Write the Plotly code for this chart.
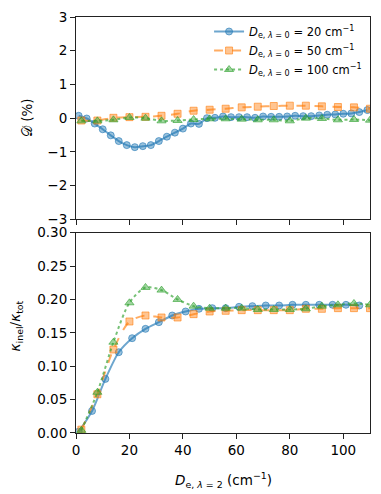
import plotly.graph_objects as go

# ---- top panel data: D (%) ----
top_x_20 = [1, 4, 7, 10, 13, 16, 19, 22, 25, 28, 31, 34, 37, 40, 43, 46, 49, 52, 55, 58,
            61, 64, 67, 70, 73, 76, 79, 82, 85, 88, 91, 94, 97, 100, 103, 106, 109]
top_y_20 = [0.07, -0.01, -0.16, -0.33, -0.51, -0.68, -0.80, -0.86, -0.83, -0.80, -0.68, -0.55,
            -0.43, -0.31, -0.16, -0.17, 0.00, 0.01, 0.05, 0.03, 0.03, 0.03, 0.01, 0.05, 0.04,
            0.04, 0.05, 0.07, 0.06, 0.06, 0.08, 0.10, 0.11, 0.13, 0.14, 0.18, 0.24]
top_x_50 = [2, 8, 14, 20, 26, 32, 38, 44, 50, 56, 62, 68, 74, 80, 86, 92, 98, 104, 110]
top_y_50 = [-0.07, -0.07, 0.01, 0.03, 0.04, 0.07, 0.13, 0.22, 0.25, 0.28, 0.32, 0.34, 0.36,
            0.37, 0.37, 0.35, 0.33, 0.32, 0.28]
top_x_100 = [2, 8, 14, 20, 26, 32, 38, 44, 50, 56, 62, 68, 74, 80, 86, 92, 98, 104, 110]
top_y_100 = [-0.08, -0.08, -0.05, 0.02, 0.00, -0.08, -0.07, -0.04, -0.02, -0.02, -0.03, -0.05,
             -0.05, -0.08, 0.00, -0.01, -0.05, -0.04, -0.06]

# ---- bottom panel data: kappa_inel / kappa_tot ----
bot_x_20 = [1, 6, 11, 16, 21, 26, 31, 36, 41, 46, 51, 56, 61, 66, 71, 76, 81, 86, 91, 96, 101, 106]
bot_y_20 = [0.002, 0.033, 0.081, 0.121, 0.142, 0.156, 0.166, 0.176, 0.182, 0.186, 0.187, 0.187,
            0.189, 0.190, 0.191, 0.191, 0.192, 0.192, 0.192, 0.192, 0.192, 0.191]
bot_x_50 = [2, 8, 14, 20, 26, 32, 38, 44, 50, 56, 62, 68, 74, 80, 86, 92, 98, 104, 110]
bot_y_50 = [0.005, 0.058, 0.125, 0.167, 0.176, 0.173, 0.173, 0.178, 0.182, 0.183, 0.184, 0.184,
            0.184, 0.184, 0.186, 0.186, 0.187, 0.187, 0.187]
bot_x_100 = [2, 8, 14, 20, 26, 32, 38, 44, 50, 56, 62, 68, 74, 80, 86, 92, 98, 104, 110]
bot_y_100 = [0.004, 0.061, 0.136, 0.195, 0.218, 0.214, 0.200, 0.190, 0.187, 0.187, 0.187, 0.185,
             0.185, 0.185, 0.186, 0.190, 0.192, 0.194, 0.192]

names = ["<i>D</i><sub>e, <i>λ</i> = 0</sub> = 20 cm<sup>−1</sup>",
         "<i>D</i><sub>e, <i>λ</i> = 0</sub> = 50 cm<sup>−1</sup>",
         "<i>D</i><sub>e, <i>λ</i> = 0</sub> = 100 cm<sup>−1</sup>"]
x_ticks = [0, 20, 40, 60, 80, 100]
top_ticks = [-3, -2, -1, 0, 1, 2, 3]
bot_ticks = [0.00, 0.05, 0.10, 0.15, 0.20, 0.25, 0.30]

styles = [
    dict(rgb=(31, 119, 180), dash="solid", symbol="circle", size=7),
    dict(rgb=(255, 127, 14), dash="dash", symbol="square", size=7),
    dict(rgb=(44, 160, 44), dash="dot", symbol="triangle-up", size=8),
]

def rgba(rgb, a):
    return "rgba(%d,%d,%d,%.2f)" % (rgb[0], rgb[1], rgb[2], a)

fig = go.Figure()
top_sets = [(top_x_20, top_y_20), (top_x_50, top_y_50), (top_x_100, top_y_100)]
bot_sets = [(bot_x_20, bot_y_20), (bot_x_50, bot_y_50), (bot_x_100, bot_y_100)]

for i, st in enumerate(styles):
    for (xs, ys), xa, ya, show in [(top_sets[i], "x", "y", True), (bot_sets[i], "x2", "y2", False)]:
        fig.add_trace(go.Scatter(
            x=xs, y=ys, xaxis=xa, yaxis=ya, name=names[i], showlegend=show,
            mode="lines+markers", line=dict(color=rgba(st["rgb"], 0.65), width=2,
                                            dash=st["dash"], shape="spline", smoothing=0.8),
            marker=dict(symbol=st["symbol"], size=st["size"], color=rgba(st["rgb"], 0.45),
                        line=dict(color=rgba(st["rgb"], 0.6), width=1)),
        ))

font = dict(family="DejaVu Sans", size=13.5, color="black")
axis_common = dict(showline=True, linecolor="#222", linewidth=1.1, mirror=True, ticks="outside",
                   ticklen=5, tickwidth=1, tickcolor="#222", showgrid=False, zeroline=False,
                   tickfont=font, automargin=False)

# page body has an 8px margin: figure is offset by (8, 8) in the window
fig.update_layout(
    width=373, height=486,
    margin=dict(l=68, r=11, t=8.7, b=60.7, autoexpand=False),
    paper_bgcolor="white", plot_bgcolor="white",
    font=font,
    xaxis=dict(domain=[0, 1], range=[0, 110], anchor="y", tickvals=x_ticks, showticklabels=False,
               **axis_common),
    yaxis=dict(domain=[0.5137, 1], range=[-3, 3], anchor="x", tickvals=top_ticks, **axis_common),
    xaxis2=dict(domain=[0, 1], range=[0, 110], anchor="y2", tickvals=x_ticks, **axis_common),
    yaxis2=dict(domain=[0, 0.4815], range=[0, 0.30], anchor="x2", tickvals=bot_ticks,
                tickformat=".2f", **axis_common),
    legend=dict(x=0.99, xanchor="right", y=1.0, yanchor="top", bgcolor="rgba(255,255,255,0)",
                font=dict(family="DejaVu Sans", size=11.5, color="black"), tracegroupgap=0,
                itemwidth=30),
    showlegend=True,
)

fig.add_annotation(text="𝒟 (%)", xref="paper", yref="paper", x=-0.167, y=0.759,
                   xanchor="center", yanchor="middle", textangle=-90, showarrow=False,
                   font=dict(family="DejaVu Sans", size=13.5, color="black"))
fig.add_annotation(text="<i>κ</i><sub>inel</sub>/<i>κ</i><sub>tot</sub>", xref="paper", yref="paper",
                   x=-0.205, y=0.258, xanchor="center", yanchor="middle", textangle=-90,
                   showarrow=False, font=dict(family="DejaVu Sans", size=13.5, color="black"))
fig.add_annotation(text="<i>D</i><sub>e, <i>λ</i> = 2</sub> (cm<sup>−1</sup>)", xref="paper",
                   yref="paper", x=0.5, y=-0.112, xanchor="center", yanchor="middle",
                   showarrow=False, font=dict(family="DejaVu Sans", size=13.5, color="black"))

fig.write_html("out.html")
